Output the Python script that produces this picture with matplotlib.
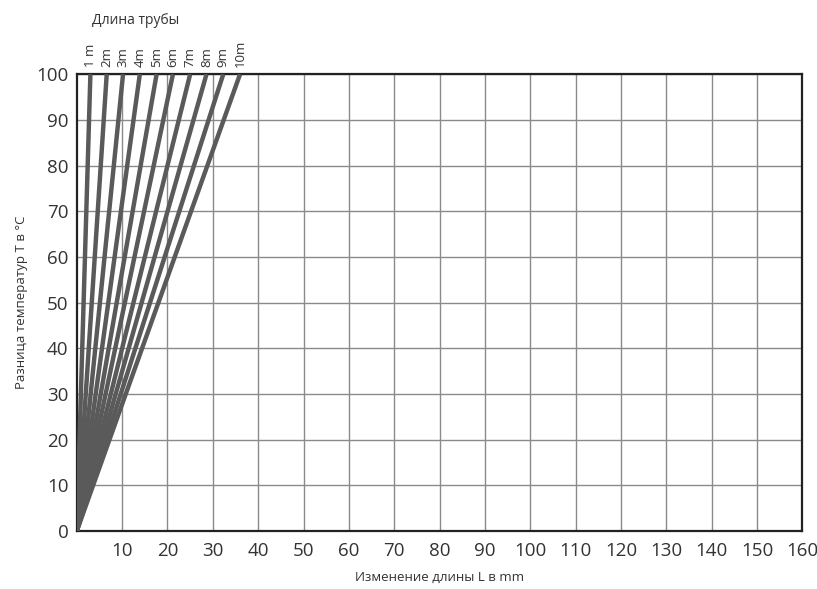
import matplotlib.pyplot as plt

plt.rcParams['font.family'] = ['Open Sans', 'DejaVu Sans']

# pipe length labels and elongation (mm) at dT = 100 °C
pipe_labels = ['1 m', '2m', '3m', '4m', '5m', '6m', '7m', '8m', '9m', '10m']
elong_at_100 = [3.0, 6.6, 10.2, 13.9, 17.6, 21.2, 25.0, 28.6, 32.3, 36.0]
x_ticks = [10, 20, 30, 40, 50, 60, 70, 80, 90, 100, 110, 120, 130, 140, 150, 160]
y_ticks = [0, 10, 20, 30, 40, 50, 60, 70, 80, 90, 100]

fig = plt.figure(figsize=(8.17, 5.89), dpi=100)
ax = fig.add_axes([0.094, 0.0985, 0.888, 0.7755])

for x in x_ticks:
    ax.axvline(x, color='#8a8a8a', lw=1.0, zorder=1)
for y in y_ticks[1:]:
    ax.axhline(y, color='#8a8a8a', lw=1.0, zorder=1)

for lab, x100 in zip(pipe_labels, elong_at_100):
    ax.plot([0, x100], [0, 100], color='#5a5a5a', lw=3.2, solid_capstyle='butt', zorder=3)
    ax.text(x100, 101.5, lab, rotation=90, ha='center', va='bottom', fontsize=9.5,
            color='#333333')

ax.set_xlim(0, 160)
ax.set_ylim(0, 100)
ax.set_xticks(x_ticks)
ax.set_yticks(y_ticks)
ax.tick_params(length=0, labelsize=13.5, colors='#333333', pad=8)
ax.tick_params(axis='y', pad=6)
for s in ax.spines.values():
    s.set_linewidth(1.6)
    s.set_color('#222222')

ax.set_xlabel('Изменение длины L в mm', fontsize=9.5, color='#333333', labelpad=8)
ax.set_ylabel('Разница температур T в °C', fontsize=9.5, color='#333333', labelpad=6)
fig.text(0.112, 0.965, 'Длина трубы', fontsize=10, color='#333333', ha='left', va='center')

fig.savefig('out.png', dpi=100, facecolor='white')
